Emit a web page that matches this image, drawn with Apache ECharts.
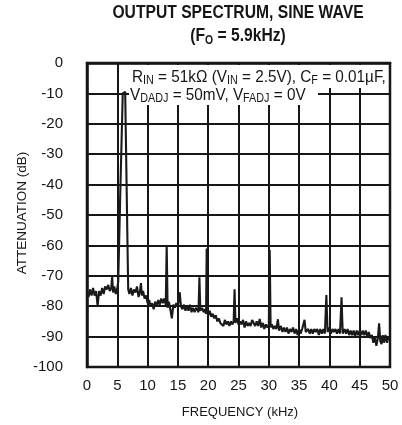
<!DOCTYPE html>
<html>
<head>
<meta charset="utf-8">
<script src="https://cdn.jsdelivr.net/npm/echarts@6/dist/echarts.min.js"></script>
<style>
  html, body { margin: 0; padding: 0; background: #fff; }
  #chart { width: 402px; height: 425px; }
</style>
</head>
<body>
<div id="chart"></div>
<script>
// Output spectrum trace: frequency (kHz) and attenuation (dB)
const freqKHz = [
  0.0, 0.25, 0.5, 0.75, 1.0, 1.25, 1.5, 1.75, 2.0, 2.25, 2.5, 2.75, 3.0, 3.25, 3.5, 3.75,
  4.0, 4.15, 4.3, 4.5, 4.75, 5.0, 5.15, 5.5, 5.9, 6.3, 6.6, 6.7, 6.8, 7.0, 7.25, 7.5,
  7.75, 8.0, 8.25, 8.5, 8.75, 8.9, 9.05, 9.25, 9.5, 9.75, 10.0, 10.25, 10.5, 10.75, 11.0, 11.25,
  11.5, 11.75, 12.0, 12.25, 12.5, 12.75, 13.0, 13.15, 13.3, 13.5, 13.75, 14.0, 14.25, 14.5, 14.75, 15.0,
  15.3, 15.5, 15.75, 16.0, 16.25, 16.5, 16.75, 17.0, 17.25, 17.5, 17.75, 18.0, 18.25, 18.4, 18.55, 18.7,
  19.0, 19.25, 19.5, 19.65, 19.75, 19.85, 20.0, 20.25, 20.5, 20.75, 21.0, 21.25, 21.5, 21.75, 22.0, 22.25,
  22.5, 22.75, 23.0, 23.25, 23.5, 23.75, 24.0, 24.2, 24.35, 24.5, 24.75, 25.0, 25.25, 25.5, 25.75, 26.0,
  26.25, 26.5, 26.75, 27.0, 27.25, 27.5, 27.75, 28.0, 28.25, 28.5, 28.75, 29.0, 29.25, 29.5, 29.75, 30.0,
  30.15, 30.3, 30.5, 30.75, 31.0, 31.25, 31.5, 31.7, 32.0, 32.25, 32.5, 32.75, 33.0, 33.25, 33.5, 33.75,
  34.0, 34.25, 34.5, 34.75, 35.0, 35.25, 35.5, 35.9, 36.1, 36.5, 36.75, 37.0, 37.25, 37.5, 37.75, 38.0,
  38.25, 38.5, 38.75, 39.0, 39.25, 39.5, 39.7, 40.0, 40.25, 40.5, 40.75, 41.0, 41.25, 41.5, 41.75, 42.0,
  42.2, 42.5, 42.75, 43.0, 43.25, 43.5, 43.75, 44.0, 44.25, 44.5, 44.75, 45.0, 45.25, 45.5, 45.75, 46.0,
  46.25, 46.5, 46.75, 47.0, 47.25, 47.5, 47.75, 48.0, 48.2, 48.4, 48.6, 48.8, 49.0, 49.25, 49.5, 49.75,
  50.0
];
const attenDb = [
  -75.5, -77, -74.5, -76.5, -74, -76.5, -75, -80, -75, -76.5, -74, -76, -73.5, -74.5, -73, -75,
  -74, -70.3, -75.5, -73.5, -76, -74, -72, -42, -10, -9.5, -10, -62, -74.5, -76, -74, -76.5,
  -74.5, -75.5, -73.5, -77, -75, -72.4, -76.5, -75, -77.5, -76.5, -79, -78, -80, -79, -81, -78.5,
  -80, -78, -79.5, -77.5, -79, -77.5, -79.5, -60, -80.5, -78.5, -81, -84, -79.5, -80.5, -79, -80,
  -75.4, -80, -81, -79.5, -81.5, -80, -81.5, -79.5, -82, -80.5, -82, -80.5, -81, -82, -70.5, -81.5,
  -80.5, -82, -81, -82.5, -61, -82, -83, -81.5, -83.5, -82.5, -84, -83, -85, -84, -85.5, -85,
  -86.5, -84.5, -86, -85, -86.5, -85, -86, -85, -74.4, -85.5, -84, -86, -85, -86, -84.5, -87,
  -85, -86.5, -85.5, -86.5, -84.5, -85.5, -86.5, -85, -86.5, -84.2, -87, -85.5, -87.5, -86, -87, -86,
  -61.5, -87, -86, -87.5, -86.5, -87.5, -84.3, -88, -86.5, -88.5, -87, -88.5, -87, -89, -87.5, -88.5,
  -87, -89, -87.5, -89.5, -87.5, -89, -87.5, -84.5, -88.5, -87.5, -89, -87.5, -89, -87.5, -88.5, -87.5,
  -89.5, -87.5, -89, -87.5, -89, -76.3, -88.5, -87, -89, -87.5, -88.5, -87.5, -89, -87.5, -89, -77.1,
  -89, -87.5, -89, -87.5, -89.5, -88, -89.5, -88, -90, -88, -89.5, -88, -89.5, -88, -89.5, -88,
  -90, -88.5, -90.5, -89.5, -92, -90, -93, -90.5, -85.6, -91.5, -92.5, -89.5, -92, -89.5, -92, -90,
  -91
];

// Axis ticks
const freqTicks = [0, 5, 10, 15, 20, 25, 30, 35, 40, 45, 50];
const dbTicks = [0, -10, -20, -30, -40, -50, -60, -70, -80, -90, -100];

const sans = "'Liberation Sans', Arial, Helvetica, sans-serif";
const ink = '#161616';

const chart = echarts.init(document.getElementById('chart'), null, { renderer: 'canvas' });

const trace = freqKHz.map((f, i) => [f, attenDb[i]]);

const noteMain = { fontFamily: sans, fontSize: 17, lineHeight: 20, fill: ink, color: ink };
const noteSub = { fontFamily: sans, fontSize: 12, lineHeight: 12, verticalAlign: 'bottom', fill: ink, color: ink };

chart.setOption({
  animation: false,
  backgroundColor: '#ffffff',
  grid: {
    left: 87, right: 12, top: 63, bottom: 58,
    show: true, borderColor: ink, borderWidth: 2.5, backgroundColor: 'transparent'
  },
  xAxis: {
    type: 'value',
    min: freqTicks[0], max: freqTicks[freqTicks.length - 1], interval: 5,
    axisLine: { show: true, lineStyle: { color: ink, width: 2.5 } },
    axisTick: { show: false },
    axisLabel: { color: ink, fontSize: 15, fontFamily: sans, margin: 11 },
    splitLine: { show: true, lineStyle: { color: ink, width: 2 } }
  },
  yAxis: {
    type: 'value',
    min: dbTicks[dbTicks.length - 1], max: dbTicks[0], interval: 10,
    axisLine: { show: true, lineStyle: { color: ink, width: 2.5 } },
    axisTick: { show: false },
    axisLabel: { color: ink, fontSize: 15, fontFamily: sans, margin: 24 },
    splitLine: { show: true, lineStyle: { color: ink, width: 2 } }
  },
  series: [{
    type: 'line',
    data: trace,
    showSymbol: false,
    symbol: 'none',
    z: 5,
    lineStyle: { color: '#1a1a1a', width: 2.1 },
    silent: true
  }],
  graphic: [
    // condensed bold heading (horizontally compressed)
    {
      type: 'text', x: 238, y: 13, z: 10, scaleX: 0.87,
      style: {
        text: 'OUTPUT SPECTRUM, SINE WAVE',
        font: "bold 18px " + sans, fill: ink,
        align: 'center', verticalAlign: 'middle'
      }
    },
    {
      type: 'text', x: 238, y: 36, z: 10, scaleX: 0.87,
      style: {
        text: '{m|(F}{s|O}{m| = 5.9kHz)}',
        align: 'center', verticalAlign: 'middle',
        rich: {
          m: { fontFamily: sans, fontWeight: 'bold', fontSize: 18, lineHeight: 22, fill: ink },
          s: { fontFamily: sans, fontWeight: 'bold', fontSize: 12, lineHeight: 12, verticalAlign: 'bottom', fill: ink }
        }
      }
    },
    {
      type: 'text', x: 22, y: 213, rotation: Math.PI / 2, z: 10,
      style: {
        text: 'ATTENUATION (dB)',
        font: "13.5px " + sans, fill: ink,
        align: 'center', verticalAlign: 'middle'
      }
    },
    {
      type: 'text', x: 240, y: 412, z: 10,
      style: {
        text: 'FREQUENCY (kHz)',
        font: "13px " + sans, fill: ink,
        align: 'center', verticalAlign: 'middle'
      }
    },
    // white boxes behind the test-condition note
    { type: 'rect', z: 20, shape: { x: 129, y: 65, width: 259, height: 23 }, style: { fill: '#fff' } },
    { type: 'rect', z: 20, shape: { x: 129, y: 86, width: 189, height: 19 }, style: { fill: '#fff' } },
    {
      type: 'text', x: 132, y: 77, z: 21, scaleX: 0.9,
      style: {
        text: '{m|R}{s|IN}{m| = 51kΩ (V}{s|IN}{m| = 2.5V), C}{s|F}{m| = 0.01µF,}',
        align: 'left', verticalAlign: 'middle',
        rich: { m: noteMain, s: noteSub }
      }
    },
    {
      type: 'text', x: 130, y: 95, z: 21, scaleX: 0.9,
      style: {
        text: '{m|V}{s|DADJ}{m| = 50mV, V}{s|FADJ}{m| = 0V}',
        align: 'left', verticalAlign: 'middle',
        rich: { m: noteMain, s: noteSub }
      }
    }
  ]
});
</script>
</body>
</html>
